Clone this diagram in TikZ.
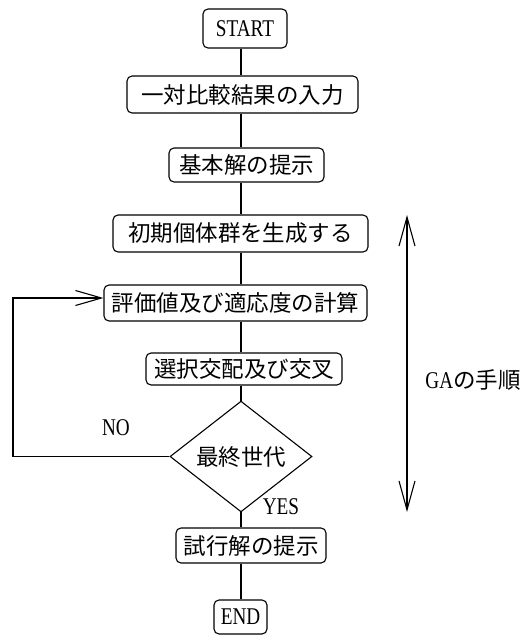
\documentclass[tikz,border=0pt]{standalone}
\usepackage{fontspec}
\newfontfamily\jp{Noto Sans CJK JP}
\newfontfamily\lat[FakeStretch=0.8]{Liberation Serif}
\usetikzlibrary{arrows.meta,shapes.geometric}
\begin{document}
\begin{tikzpicture}[x=1pt,y=-1pt,
  line width=1.1pt,
  jpfont/.style={font=\jp\fontsize{22.5}{26}\selectfont},
  latfont/.style={font=\lat\fontsize{24}{28}\selectfont},
  box/.style={draw, rounded corners=5pt, inner sep=0pt, jpfont},
  decision/.style={draw, diamond, inner sep=0pt, jpfont},
  barb/.style={-{Straight Barb[length=26pt,width=15pt]}},
  dbarb/.style={{Straight Barb[length=29pt,width=16pt]}-{Straight Barb[length=29pt,width=16pt]}},
  lbl/.style={inner sep=0pt, latfont}
]
\useasboundingbox (0,0) rectangle (521,635);
\coordinate (spine) at (241,0);
\coordinate (loopc) at (13,0);

\node[box, latfont, minimum width=84pt, minimum height=39pt] (start) at (245,28.5) {START};
\node[box, minimum width=231pt, minimum height=37pt] (input) at (242.5,94.5) {一対比較結果の入力};
\node[box, minimum width=155pt, minimum height=34pt] (basic) at (246.5,165) {基本解の提示};
\node[box, minimum width=255pt, minimum height=37pt] (init) at (240.5,233.5) {初期個体群を生成する};
\node[box, minimum width=263pt, minimum height=36pt] (eval) at (235.5,303) {評価値及び適応度の計算};
\node[box, minimum width=196pt, minimum height=32pt] (sel) at (244,369) {選択交配及び交叉};
\node[decision, minimum width=142pt, minimum height=71pt] (dec) at (241,456.5) {最終世代};
\node[box, minimum width=150pt, minimum height=35pt] (trial) at (251,545.5) {試行解の提示};
\node[box, latfont, minimum width=53pt, minimum height=34pt] (end) at (240.5,617) {END};

\draw (start.south -| spine) -- (input.north -| spine);
\draw (input.south -| spine) -- (basic.north -| spine);
\draw (basic.south -| spine) -- (init.north -| spine);
\draw (init.south -| spine) -- (eval.north -| spine);
\draw (eval.south -| spine) -- (sel.north -| spine);
\draw (sel.south -| spine) -- (dec.north);
\draw (dec.south) -- (trial.north -| spine);
\draw (trial.south -| spine) -- (end.north -| spine);

\draw[barb] (dec.west) -- (dec.west -| loopc) -- ([yshift=5pt]eval.west -| loopc) -- ([yshift=5pt]eval.west);

\node[lbl] (no) at (116,428) {NO};
\node[lbl] (yes) at (281,507) {YES};

\coordinate (gatop) at (407,215);
\coordinate (gabot) at (407,512);
\draw[dbarb] (gatop) -- (gabot);
\node[inner sep=0pt] (ga) at (473,380) {{\lat\fontsize{24}{28}\selectfont GA}{\jp\fontsize{22.5}{26}\selectfont の手順}};
\end{tikzpicture}
\end{document}
